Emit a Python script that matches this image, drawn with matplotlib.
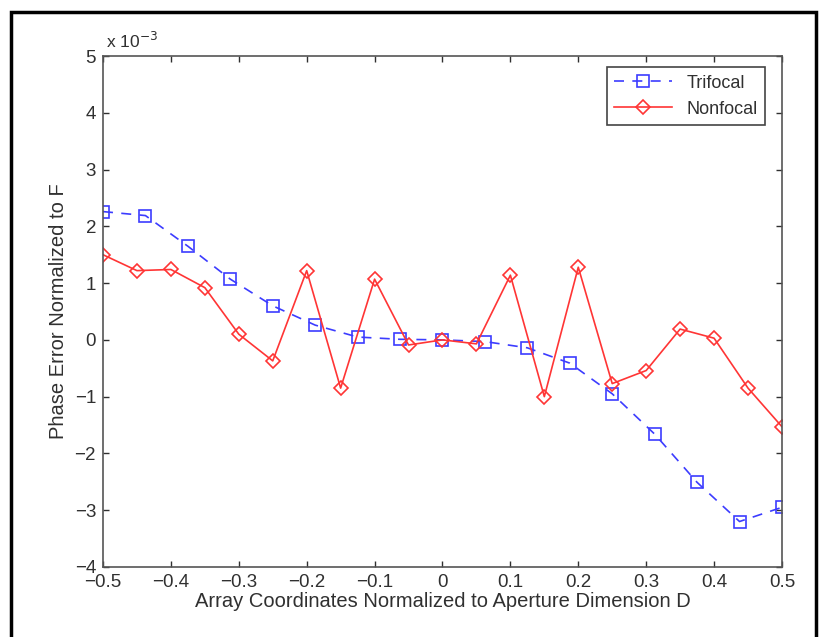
import numpy as np
import matplotlib
matplotlib.use('Agg')
import matplotlib.pyplot as plt
from matplotlib.patches import Rectangle

plt.rcParams['font.family'] = ['Liberation Sans', 'DejaVu Sans']

# values in units of 1e-3
x_tri = np.linspace(-0.5, 0.5, 17)
tri = [2.26, 2.19, 1.65, 1.07, 0.60, 0.26, 0.05, 0.01, 0.0, -0.03,
       -0.14, -0.41, -0.95, -1.66, -2.51, -3.20, -2.95]
x_non = np.linspace(-0.5, 0.5, 21)
non = [1.50, 1.22, 1.24, 0.92, 0.10, -0.37, 1.22, -0.85, 1.07, -0.09, 0.0,
       -0.07, 1.14, -1.00, 1.28, -0.77, -0.54, 0.19, 0.03, -0.85, -1.53]

xticks = np.round(np.arange(-0.5, 0.51, 0.1), 1)
yticks = np.arange(-4, 6, 1)

fig = plt.figure(figsize=(8.28, 6.37), dpi=100)
ax = fig.add_axes([0.1244, 0.110, 0.820, 0.802])

ax.plot(x_tri, tri, '--s', color='#3c3cff', lw=1.2, ms=8.5,
        mfc='none', mew=1.2, dashes=(6, 5), label='Trifocal')
ax.plot(x_non, non, '-D', color='#ff3535', lw=1.2, ms=7,
        mfc='none', mew=1.2, label='Nonfocal')

ax.set_xlim(-0.5, 0.5)
ax.set_ylim(-4, 5)
ax.set_xticks(xticks)
ax.set_xticklabels([('%g' % v).replace('-', '\u2212') if v != 0 else '0'
                    for v in xticks])
ax.set_yticks(yticks)
ax.set_yticklabels([('%d' % v).replace('-', '\u2212') for v in yticks])
ax.tick_params(direction='in', length=4, width=1, top=True, right=True,
               labelsize=13.5, colors='#303030', pad=5)
for s in ax.spines.values():
    s.set_color('#555555')
    s.set_linewidth(1.2)

ax.set_xlabel('Array Coordinates Normalized to Aperture Dimension D',
              fontsize=14.5, color='#303030', labelpad=1)
ax.set_ylabel('Phase Error Normalized to F', fontsize=14.5, color='#303030',
              labelpad=5)
ax.text(0.005, 1.01, 'x 10$^{\u22123}$', transform=ax.transAxes, fontsize=12.5,
        color='#303030', ha='left', va='bottom')

leg = ax.legend(loc='upper right', bbox_to_anchor=(0.975, 0.978),
                fontsize=13, fancybox=False, framealpha=1, borderaxespad=0,
                handlelength=3.2, edgecolor='#444444')
leg.get_frame().set_linewidth(1.2)
for t in leg.get_texts():
    t.set_color('#303030')

# outer frame
fig.patches.append(Rectangle((0.013, -0.1), 0.972, 1.081, transform=fig.transFigure,
                             fill=False, edgecolor='black', lw=2.5))

fig.savefig('out.png', dpi=100)
